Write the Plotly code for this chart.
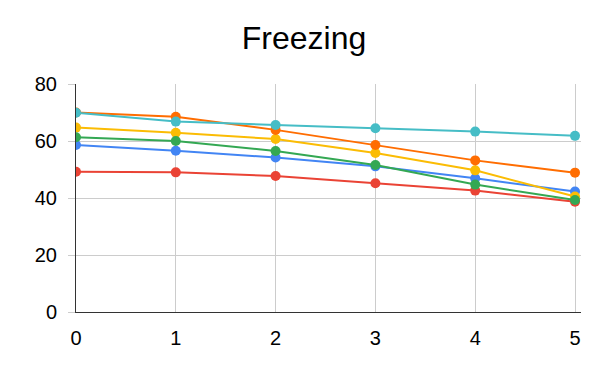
import plotly.graph_objects as go

x_vals = [0, 1, 2, 3, 4, 5]
y_ticks = [0, 20, 40, 60, 80]

blue = [58.6, 56.6, 54.2, 51.1, 46.9, 42.3]
red = [49.2, 49.0, 47.7, 45.2, 42.6, 38.7]
yellow = [64.7, 62.9, 60.7, 55.8, 49.7, 40.5]
green = [61.3, 60.0, 56.5, 51.6, 44.7, 39.3]
orange = [70.0, 68.5, 63.9, 58.6, 53.2, 48.9]
teal = [69.9, 66.8, 65.6, 64.5, 63.3, 61.8]

series = [
    (blue, "#4285F4"),
    (red, "#EA4335"),
    (yellow, "#FBBC04"),
    (green, "#34A853"),
    (orange, "#FF6D01"),
    (teal, "#46BDC6"),
]

fig = go.Figure()
for vals, color in series:
    fig.add_trace(go.Scatter(
        x=x_vals, y=vals, mode="lines+markers",
        line=dict(color=color, width=2),
        marker=dict(color=color, size=10),
        showlegend=False,
    ))

# page body has an 8px margin; figure is sized to fit the 600x371 window
W, H = 592, 363
font_family = "Arial, Liberation Sans, sans-serif"
fig.update_layout(
    width=W, height=H,
    paper_bgcolor="white", plot_bgcolor="white",
    margin=dict(l=68, r=19, t=76, b=59),
    title=dict(text="Freezing", x=0.5, xanchor="center", y=1 - 30 / H,
               yanchor="middle", yref="container",
               font=dict(family=font_family, size=32, color="black")),
    font=dict(family=font_family, color="black"),
)
fig.update_xaxes(
    range=[0, 5.06], tickvals=x_vals, ticktext=[str(v) for v in x_vals],
    showgrid=True, gridcolor="#cccccc", gridwidth=1,
    showline=True, linecolor="#333333", linewidth=1,
    zeroline=False, ticks="", ticklabelstandoff=8,
    tickfont=dict(size=20, color="black"),
)
fig.update_yaxes(
    range=[0, 80], tickvals=y_ticks,
    showgrid=True, gridcolor="#cccccc", gridwidth=1,
    showline=True, linecolor="#333333", linewidth=1,
    zeroline=False, ticks="outside", ticklen=7, tickcolor="#cccccc",
    ticklabelstandoff=7,
    tickfont=dict(size=20, color="black"),
)

fig.write_html("out.html")
